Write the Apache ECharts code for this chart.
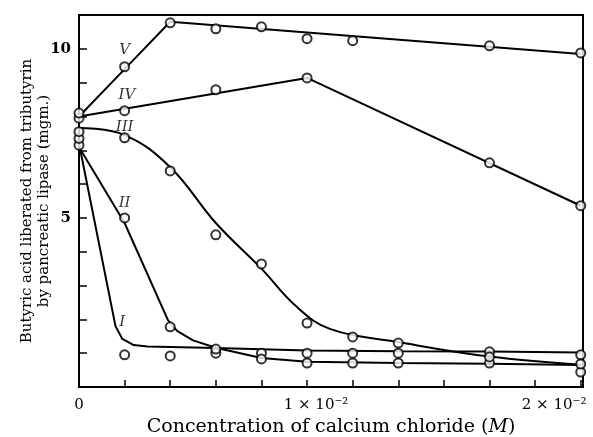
<!DOCTYPE html>
<html>
<head>
<meta charset="utf-8">
<script src="https://cdn.jsdelivr.net/npm/echarts@6/dist/echarts.min.js"></script>
<style>
  html, body { margin: 0; padding: 0; background: #fff; }
  #main { width: 593px; height: 437px; }
</style>
</head>
<body>
<div id="main"></div>
<script>
// measured points (concentration in M, butyric acid in mgm.)
var conc = [0, 0.002, 0.004, 0.006, 0.008, 0.010, 0.012, 0.014, 0.018, 0.022]
var ptsI = [7.15, 0.95, 0.92, 1.0, 1.0, 1.0, 1.0, 1.0, 1.04, 0.95]
var ptsII = [7.35, 5.0, 1.78, 1.12, 0.83, 0.71, 0.71, 0.71, 0.71, 0.44]
var ptsIII = [7.55, 7.37, 6.39, 4.5, 3.64, 1.89, 1.48, 1.30, 0.89, 0.68]
var concIV = [0, 0.002, 0.006, 0.010, 0.018, 0.022]
var ptsIV = [7.95, 8.17, 8.79, 9.14, 6.63, 5.36]
var concV = [0, 0.002, 0.004, 0.006, 0.008, 0.010, 0.012, 0.018, 0.022]
var ptsV = [8.1, 9.47, 10.77, 10.59, 10.65, 10.3, 10.24, 10.09, 9.88]

// drawn curves
var curveIx = [0, 0.0016, 0.0019, 0.0024, 0.003, 0.006, 0.010, 0.014, 0.018, 0.022]
var curveIy = [7.2, 1.8, 1.42, 1.24, 1.2, 1.15, 1.08, 1.06, 1.05, 1.02]
var curveIIx = [0, 0.002, 0.0039, 0.0043, 0.005, 0.006, 0.008, 0.010, 0.014, 0.018, 0.022]
var curveIIy = [7.1, 4.85, 1.98, 1.66, 1.38, 1.16, 0.86, 0.75, 0.71, 0.69, 0.65]
var curveIIIx = [0, 0.002, 0.004, 0.006, 0.008, 0.0095, 0.011, 0.014, 0.018, 0.022]
var curveIIIy = [7.66, 7.45, 6.5, 4.85, 3.5, 2.4, 1.72, 1.33, 0.9, 0.66]
var curveIVx = [0, 0.010, 0.022]
var curveIVy = [8.0, 9.14, 5.36]
var curveVx = [0, 0.002, 0.004, 0.022]
var curveVy = [8.0, 9.4, 10.8, 9.85]

// curve labels
var labelNames = ['V', 'IV', 'III', 'II', 'I']
var labelX = [0.002, 0.0021, 0.002, 0.002, 0.0019]
var labelY = [9.97, 8.64, 7.69, 5.44, 1.92]

var font = 'DejaVu Serif'

function zip(xs, ys) {
  return xs.map(function (x, i) { return [x, ys[i]] })
}

function curve(xs, ys, smooth) {
  return {
    type: 'line',
    data: zip(xs, ys),
    symbol: 'none',
    smooth: smooth,
    lineStyle: { color: '#000', width: 2 },
    z: 2
  }
}

function points(xs, ys) {
  return {
    type: 'scatter',
    data: zip(xs, ys),
    symbol: 'circle',
    symbolSize: 9,
    itemStyle: { color: '#fff', borderColor: '#000', borderWidth: 2 },
    z: 3
  }
}

var myChart = echarts.init(document.getElementById('main'))

myChart.setOption({
  backgroundColor: '#fff',
  animation: false,
  grid: {
    left: 79,
    right: 10,
    top: 15,
    bottom: 50,
    outerBoundsMode: 'none',
    show: true,
    borderColor: '#000',
    borderWidth: 2
  },
  xAxis: {
    type: 'value',
    min: 0,
    max: 0.0221,
    interval: 0.002,
    splitLine: { show: false },
    axisLine: { lineStyle: { color: '#000', width: 2 } },
    axisTick: { inside: true, length: 7, lineStyle: { color: '#000', width: 1.5 } },
    axisLabel: {
      margin: 11,
      showMaxLabel: false,
      color: '#000',
      formatter: function (v) {
        if (Math.abs(v) < 1e-9) return '{z|0}'
        if (Math.abs(v - 0.01) < 1e-9) return '{a|1 × 10⁻²}'
        if (Math.abs(v - 0.02) < 1e-9) return '{b|2 × 10⁻²}'
        return ''
      },
      rich: {
        z: { fontFamily: font, fontSize: 15, color: '#000' },
        a: { fontFamily: font, fontSize: 15, color: '#000', padding: [0, 0, 0, 18] },
        b: { fontFamily: font, fontSize: 15, color: '#000', padding: [0, 0, 0, 38] }
      }
    },
    name: '{t|Concentration of calcium chloride (}{i|M}{t|)}',
    nameLocation: 'middle',
    nameGap: 27,
    nameTextStyle: {
      rich: {
        t: { fontFamily: font, fontSize: 19, color: '#000' },
        i: { fontFamily: font, fontSize: 19, color: '#000', fontStyle: 'italic' }
      }
    }
  },
  yAxis: {
    type: 'value',
    min: 0,
    max: 11,
    interval: 1,
    splitLine: { show: false },
    axisLine: { lineStyle: { color: '#000', width: 2 } },
    axisTick: { inside: true, length: 8, lineStyle: { color: '#000', width: 1.5 } },
    axisLabel: {
      margin: 8,
      fontFamily: font,
      fontSize: 15,
      fontWeight: 'bold',
      color: '#000',
      formatter: function (v) {
        return (v === 5 || v === 10) ? String(v) : ''
      }
    },
    name: 'Butyric acid liberated from tributyrin\nby pancreatic lipase (mgm.)',
    nameLocation: 'middle',
    nameMoveOverlap: false,
    nameGap: 26,
    nameTextStyle: {
      fontFamily: font,
      fontSize: 15,
      color: '#000',
      lineHeight: 17
    }
  },
  series: [
    curve(curveIx, curveIy, false),
    curve(curveIIx, curveIIy, false),
    curve(curveIIIx, curveIIIy, 0.4),
    curve(curveIVx, curveIVy, false),
    curve(curveVx, curveVy, false),
    points(conc, ptsI),
    points(conc, ptsII),
    points(conc, ptsIII),
    points(concIV, ptsIV),
    points(concV, ptsV),
    {
      type: 'scatter',
      symbolSize: 0,
      data: labelNames.map(function (n, i) { return { name: n, value: [labelX[i], labelY[i]] } }),
      label: {
        show: true,
        position: 'inside',
        formatter: '{b}',
        fontFamily: font,
        fontStyle: 'italic',
        fontSize: 15,
        color: '#000'
      },
      z: 4
    }
  ]
})
</script>
</body>
</html>
